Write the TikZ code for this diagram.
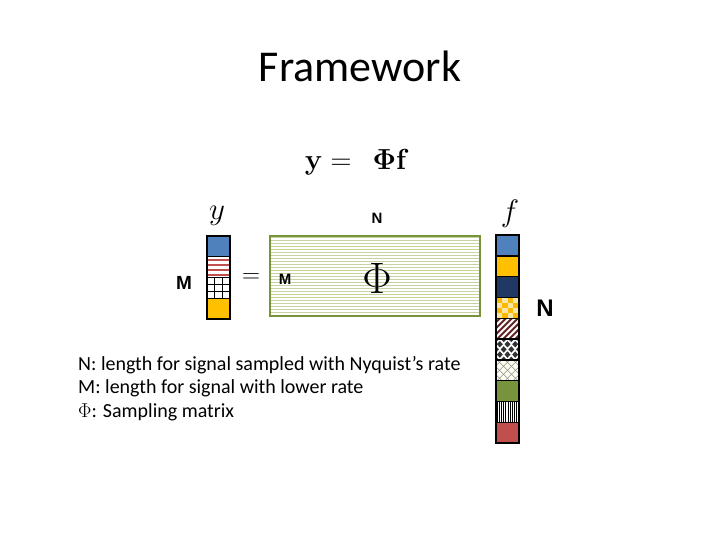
\RequirePackage{fix-cm}
\documentclass[tikz,border=0pt]{standalone}
\usepackage[no-math]{fontspec}
\setmainfont{Carlito}
\newfontfamily\arialfont{Liberation Sans}
\usetikzlibrary{calc}
\definecolor{cblue}{HTML}{4F81BD}
\definecolor{cyellow}{HTML}{FFC000}
\definecolor{cnavy}{HTML}{1F3864}
\definecolor{cgreen}{HTML}{77933C}
\definecolor{cred}{HTML}{C0504D}
\definecolor{cstripe}{HTML}{C0504D}
\definecolor{cmaroon}{HTML}{632523}
\definecolor{cpale}{HTML}{F9E7A6}
\definecolor{cmline}{HTML}{C4D3A0}
\newcommand{\pnw}{path picture bounding box.north west}

\begin{document}
\begin{tikzpicture}[x=1pt, y=-1pt,
  every node/.style={inner sep=0pt},
  cell/.style={draw=black, line width=1.4pt, minimum width=23pt,
               minimum height=20.8pt, inner sep=0pt, fill=white},
  ttl/.style={font=\fontsize{44}{50}\selectfont, anchor=base},
  lbl/.style={font=\fontsize{31}{36}\selectfont},
  dim/.style={font=\arialfont\bfseries\fontsize{19}{22}\selectfont},
  note/.style={font=\fontsize{20}{24}\selectfont, anchor=base west},
]
\useasboundingbox (0,0) rectangle (720,540);

\node[ttl] (title) at (360,82) {Framework};
\node (eq) at (357,162) {\fontsize{29}{34}\selectfont$\mathbf{y} =\;\, \mathbf{\Phi f}$};

% ---- y vector ----
\node[lbl] (ylab) at (217,216) {$y$};
\node[cell, fill=cblue] (y1) at (218.5,246.3) {};
\node[cell, path picture={
        \foreach \k in {3,8,13,18}
          \draw[cstripe, line width=2.4pt] ($(\pnw)+(0,\k)$) -- ++(30,0);}]
      (y2) at (218.5,267.1) {};
\node[cell, path picture={
        \foreach \k in {7.7,15.3}
          \draw[black, line width=0.9pt] ($(\pnw)+(\k,0)$) -- ++(0,25);
        \foreach \k in {6.9,13.9}
          \draw[black, line width=0.9pt] ($(\pnw)+(0,\k)$) -- ++(30,0);}]
      (y3) at (218.5,287.9) {};
\node[cell, fill=cyellow] (y4) at (218.5,308.7) {};
\node[dim] (mleft) at (184,283) {M};
\node[font=\fontsize{25}{30}\selectfont] (eqs) at (251,278) {$=$};

% ---- sampling matrix ----
\node[draw=cgreen, line width=2.6pt, fill=white, minimum width=210pt,
      minimum height=80pt, path picture={
        \foreach \k in {1.5,4.5,...,82}
          \draw[cmline, line width=0.9pt] ($(\pnw)+(0,\k)$) -- ++(215,0);}]
      (phi) at (375,276) {};
\node[font=\fontsize{44}{50}\selectfont] (phisym) at (377,278) {$\Phi$};
\node[dim, font=\arialfont\bfseries\fontsize{15}{18}\selectfont] (mins) at (285,279) {M};
\node[dim, font=\arialfont\bfseries\fontsize{15}{18}\selectfont] (ntop) at (377,218) {N};

% ---- f vector ----
\node[lbl] (flab) at (510,214) {$f$};
\node[cell, fill=cblue] (f1) at (507.5,245.4) {};
\node[cell, fill=cyellow] (f2) at (507.5,266.2) {};
\node[cell, fill=cnavy] (f3) at (507.5,287.0) {};
\node[cell, fill=cpale, path picture={
        \foreach \i/\j in {0/0,2/0,1/1,3/1,0/2,2/2,1/3,3/3}
          \fill[cyellow!85!orange] ($(\pnw)+(\i*5.75,\j*5.2)$) rectangle +(5.75,5.2);}]
      (f4) at (507.5,307.8) {};
\node[cell, path picture={
        \foreach \k in {-24,-18,...,30}
          \draw[cmaroon, line width=2pt] ($(\pnw)+(\k,22)$) -- ++(24,-24);}]
      (f5) at (507.5,328.6) {};
\node[cell, path picture={
        \foreach \a in {0,7.7,15.3,23}
          \foreach \b in {0,10.4,20.8}
            \fill[black!80] ($(\pnw)+(\a,\b)$) +(-3,0) -- +(0,-3.2) -- +(3,0) -- +(0,3.2) -- cycle;
        \foreach \a in {3.8,11.5,19.2}
          \foreach \b in {5.2,15.6}
            \fill[black!80] ($(\pnw)+(\a,\b)$) +(-3,0) -- +(0,-3.2) -- +(3,0) -- +(0,3.2) -- cycle;}]
      (f6) at (507.5,349.4) {};
\node[cell, fill=yellow!6, path picture={
        \foreach \k in {-24,-16,...,30} {
          \draw[black!45, line width=0.5pt] ($(\pnw)+(\k,22)$) -- ++(24,-24);
          \draw[black!45, line width=0.5pt] ($(\pnw)+(\k,-1)$) -- ++(24,24);}}]
      (f7) at (507.5,370.2) {};
\node[cell, fill=cgreen] (f8) at (507.5,391.0) {};
\node[cell, path picture={
        \foreach \k in {1,3.2,...,24}
          \draw[black, line width=1pt] ($(\pnw)+(\k,0)$) -- ++(0,25);}]
      (f9) at (507.5,411.8) {};
\node[cell, fill=cred] (f10) at (507.5,432.6) {};
\node[dim, font=\arialfont\bfseries\fontsize{24}{28}\selectfont] (nright) at (545,308) {N};

% ---- notes ----
\node[note] (n1) at (78,370) {N: length for signal sampled with Nyquist’s rate};
\node[note] (n2) at (78,393.5) {M: length for signal with lower rate};
\node[note] (n3) at (78,417) {$\Phi$: Sampling matrix};

\end{tikzpicture}
\end{document}
